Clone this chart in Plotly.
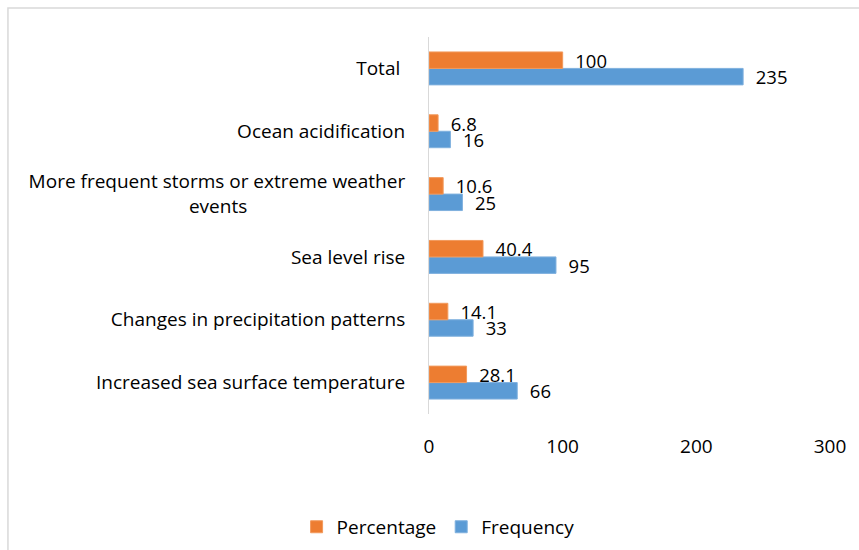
import plotly.graph_objects as go

# Categories, listed bottom to top
categories = [
    "Increased sea surface temperature",
    "Changes in precipitation patterns",
    "Sea level rise",
    "More frequent storms or extreme weather<br>events" + "\u00a0" * 32,
    "Ocean acidification",
    "Total\u00a0",
]
frequency = [66, 33, 95, 25, 16, 235]
percentage = [28.1, 14.1, 40.4, 10.6, 6.8, 100]
x_ticks = [0, 100, 200, 300]

FONT = "Open Sans"
SIZE = 19
LABEL_SIZE = 18.5
TEXT_COLOR = "#000000"
ORANGE = "#ED7D31"
BLUE = "#5B9BD5"

fig = go.Figure()
fig.add_trace(go.Bar(
    y=categories, x=frequency, orientation="h", name="Frequency",
    marker=dict(color=BLUE, line=dict(color="#7fb0de", width=1)),
    texttemplate="  %{x}", textposition="outside", cliponaxis=False,
    constraintext="none",
    textfont=dict(family=FONT, size=LABEL_SIZE, color=TEXT_COLOR),
    legendrank=2,
))
fig.add_trace(go.Bar(
    y=categories, x=percentage, orientation="h", name="Percentage",
    marker=dict(color=ORANGE, line=dict(color="#f29a5c", width=1)),
    texttemplate="  %{x}", textposition="outside", cliponaxis=False,
    constraintext="none",
    textfont=dict(family=FONT, size=LABEL_SIZE, color=TEXT_COLOR),
    legendrank=1,
))

fig.update_layout(
    width=859, height=550,
    margin=dict(l=429, r=29, t=37, b=136),
    paper_bgcolor="white", plot_bgcolor="white",
    barmode="group", bargap=0.476, bargroupgap=0,
    font=dict(family=FONT, size=SIZE, color=TEXT_COLOR),
    showlegend=True,
    legend=dict(
        orientation="h", xref="container", yref="container",
        x=0.51, xanchor="center", y=0.042, yanchor="middle",
        font=dict(family=FONT, size=SIZE, color=TEXT_COLOR),
        itemwidth=30, traceorder="normal",
    ),
    xaxis=dict(
        range=[0, 300], tickvals=x_ticks, showgrid=False, zeroline=False,
        showline=False, ticks="", ticklabelstandoff=19,
        tickfont=dict(family=FONT, size=SIZE, color=TEXT_COLOR),
    ),
    yaxis=dict(
        showgrid=False, zeroline=False, showline=True, linecolor="#d9d9d9",
        linewidth=1, ticks="", ticklabelstandoff=19,
        tickfont=dict(family=FONT, size=SIZE, color=TEXT_COLOR),
    ),
    shapes=[dict(
        type="rect", xref="paper", yref="paper",
        x0=-1.05, x1=1.08, y0=-0.37, y1=1.077,
        line=dict(color="#d9d9d9", width=1.5), fillcolor="rgba(0,0,0,0)",
        layer="below",
    )],
)

fig.write_html("out.html")
